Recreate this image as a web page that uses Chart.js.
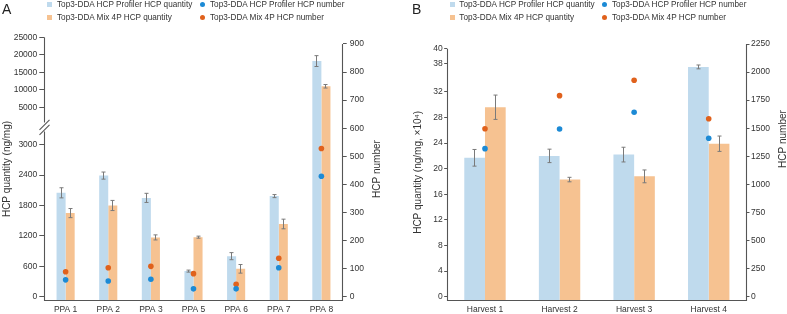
<!DOCTYPE html>
<html><head><meta charset="utf-8">
<script src="https://cdn.jsdelivr.net/npm/chart.js@4.4.1/dist/chart.umd.min.js"></script>
<style>
html,body{margin:0;padding:0;background:#fff;}
body{width:787px;height:314px;position:relative;overflow:hidden;font-family:"Liberation Sans",Arial,sans-serif;color:#333;}
.panel{position:absolute;top:0;height:314px;}
.panel canvas{display:block;}
.letter{position:absolute;font-size:14px;line-height:14px;color:#222;}
.leg{position:absolute;font-size:8.2px;line-height:10px;white-space:nowrap;color:#333;}
.sq{position:absolute;width:5px;height:5px;}
.dot{position:absolute;width:5px;height:5px;border-radius:50%;}
</style></head><body>
<div class="panel" style="left:0;width:393px"><canvas id="cA" width="393" height="314"></canvas></div>
<div class="panel" style="left:400px;width:387px"><canvas id="cB" width="387" height="314"></canvas></div>
<div class="letter" style="left:2px;top:1.5px">A</div>
<div class="letter" style="left:412px;top:1.5px">B</div>
<div id="legends"></div>
<script>
// ---------- DATA ----------
const seriesNames = ['Top3-DDA HCP Profiler HCP quantity','Top3-DDA Mix 4P HCP quantity','Top3-DDA HCP Profiler HCP number','Top3-DDA Mix 4P HCP number'];

const categoriesA = ['PPA 1','PPA 2','PPA 3','PPA 5','PPA 6','PPA 7','PPA 8'];
const profilerQtyA = [2050, 2390, 1950, 505, 800, 1985, 18200];
const profilerErrA = [100, 70, 90, 20, 70, 30, 1550];
const mixQtyA = [1650, 1800, 1170, 1175, 550, 1435, 11000];
const mixErrA = [90, 100, 50, 20, 85, 95, 500];
const profilerNumA = [60, 56, 62, 28, 28, 103, 429];
const mixNumA = [89, 103, 108, 82, 44, 137, 528];
const leftTicksA = [0, 600, 1200, 1800, 2400, 3000, 5000, 10000, 15000, 20000, 25000];
const rightTicksA = [0, 100, 200, 300, 400, 500, 600, 700, 800, 900];

const categoriesB = ['Harvest 1','Harvest 2','Harvest 3','Harvest 4'];
const profilerQtyB = [21.7, 22.0, 22.2, 35.9];
const profilerErrB = [1.3, 1.05, 1.15, 0.3];
const mixQtyB = [29.6, 18.3, 18.8, 23.9];
const mixErrB = [1.9, 0.35, 1.0, 1.2];
const profilerNumB = [1318, 1493, 1642, 1411];
const mixNumB = [1496, 1790, 1927, 1585];
const leftTickPosB = [0, 4, 8, 12, 16, 20, 24, 28, 32, 36.4, 38.75];
const leftTickLabelsB = ['0','4','8','12','16','20','24','28','32','38','40'];
const rightTicksB = [0, 250, 500, 750, 1000, 1250, 1500, 1750, 2000, 2250];

// ---------- STYLE ----------
const BAR_BLUE = '#bfdaed';
const BAR_ORANGE = '#f6c291';
const DOT_BLUE = '#1c8ad5';
const DOT_ORANGE = '#e0611c';
const AXIS = '#555555';
const ERR = '#7a7a7a';
const TXT = '#333333';
const FONT = '"Liberation Sans", Arial, sans-serif';
Chart.defaults.font.family = FONT;
Chart.defaults.color = TXT;

// broken axis shape for panel A (values above the break are compressed)
const BRK_LOW = 3000, BRK_HIGH = 5000, BRK_GAP = 738, BRK_RATIO = 0.06907;
const toAxisA = v => v <= BRK_LOW ? v : BRK_LOW + BRK_GAP + (v - BRK_HIGH) * BRK_RATIO;
const ident = v => v;

// ---------- LEGENDS ----------
function legend(off, sqX, txtX, dotX, dotTxtX) {
  const L = document.getElementById('legends');
  const rows = [[0, 2.3, 0], [1, 14.9, 12.6]];
  const cols = [BAR_BLUE, BAR_ORANGE, DOT_BLUE, DOT_ORANGE];
  rows.forEach(([r, boxY, txtY]) => {
    const s = document.createElement('div'); s.className = 'sq';
    s.style.cssText = `left:${off+sqX}px;top:${boxY}px;background:${cols[r]}`; L.appendChild(s);
    const t = document.createElement('div'); t.className = 'leg';
    t.style.cssText = `left:${off+txtX}px;top:${txtY}px`; t.textContent = seriesNames[r]; L.appendChild(t);
    const d = document.createElement('div'); d.className = 'dot';
    d.style.cssText = `left:${off+dotX}px;top:${boxY}px;background:${cols[r+2]}`; L.appendChild(d);
    const t2 = document.createElement('div'); t2.className = 'leg';
    t2.style.cssText = `left:${off+dotTxtX}px;top:${txtY}px`; t2.textContent = seriesNames[r+2]; L.appendChild(t2);
  });
}
legend(0, 47, 57, 200.2, 210);
legend(400, 50, 59.3, 202.2, 212);

// ---------- PLUGINS ----------
const al = p => Math.round(p - 0.5) + 0.5;
function errorPlugin(tf) {
  return { id: 'err', afterDatasetsDraw(chart) {
    const ctx = chart.ctx; ctx.save(); ctx.strokeStyle = ERR; ctx.lineWidth = 1;
    chart.data.datasets.forEach((ds, i) => {
      if (!ds.errs) return;
      const meta = chart.getDatasetMeta(i); const sc = chart.scales[meta.yAxisID];
      meta.data.forEach((el, j) => {
        const v = ds.rawVals[j], e = ds.errs[j];
        const x = al(el.x);
        const y1 = sc.getPixelForValue(tf(v + e)), y2 = sc.getPixelForValue(tf(v - e));
        ctx.beginPath();
        ctx.moveTo(x, y1); ctx.lineTo(x, y2);
        ctx.moveTo(x - 2, y1); ctx.lineTo(x + 2, y1);
        ctx.moveTo(x - 2, y2); ctx.lineTo(x + 2, y2);
        ctx.stroke();
      });
    });
    ctx.restore();
  }};
}
function axesPlugin(o) {
  return { id: 'axes', afterDraw(chart) {
    const ctx = chart.ctx, a = chart.chartArea, yL = chart.scales.y, yR = chart.scales.y2;
    const xl = al(a.left), xr = al(a.right), yb = al(a.bottom);
    ctx.save(); ctx.strokeStyle = AXIS; ctx.lineWidth = 1.1;
    const seg = (x1, y1, x2, y2) => { ctx.beginPath(); ctx.moveTo(x1, y1); ctx.lineTo(x2, y2); ctx.stroke(); };
    const topL = yL.getPixelForValue(o.leftTop);
    if (o.breakAt) {
      const c = o.breakAt(yL);
      seg(xl, topL, xl, c - 4.5); seg(xl, c + 4.5, xl, yb + 0.5);
      seg(xl - 5, c + 3, xl + 5, c - 7);
      seg(xl - 5, c + 8, xl + 5, c - 2);
    } else {
      seg(xl, topL, xl, yb + 0.5);
    }
    seg(xr, yR.getPixelForValue(o.rightTop), xr, yb + 0.5);
    seg(xl, yb, xr, yb);
    ctx.fillStyle = TXT; ctx.font = '10px ' + FONT;
    ctx.translate(a.right + o.rtX, o.rtY); ctx.rotate(-Math.PI / 2);
    ctx.textAlign = 'center'; ctx.textBaseline = 'middle';
    ctx.fillText('HCP number', 0, 0);
    ctx.restore();
  }};
}

function yScale(pos, min, max, tickVals, labels, tf, tl, pad, width, title) {
  const s = {
    position: pos, min: min, max: max,
    afterBuildTicks(sc) { sc.ticks = tickVals.map(v => ({ value: tf(v) })); },
    ticks: { callback: (v, i) => labels[i], font: { size: 8.5 }, padding: pad, color: TXT },
    grid: { drawOnChartArea: false, drawTicks: true, tickLength: tl, color: AXIS, tickWidth: 1 },
    border: { display: true, color: 'rgba(0,0,0,0)' },
    afterFit(sc) { sc.width = width; }
  };
  if (title) s.title = { display: true, text: title, font: { size: 10 }, color: TXT, padding: { top: 1, bottom: 0 } };
  return s;
}
function xScale() {
  return { grid: { display: false, drawTicks: false, tickLength: 0 }, border: { display: false },
    ticks: { font: { size: 8.5 }, padding: 4, color: TXT, maxRotation: 0, autoSkip: false },
    afterFit(sc) { sc.height = 13.3; } };
}
function datasets(pq, pe, mq, me, pn, mn, tf, base, cp) {
  const dot = (label, d, c) => ({ type: 'line', label, data: d, yAxisID: 'y2', showLine: false,
    pointRadius: 2.8, pointBackgroundColor: c, pointBorderColor: c, pointBorderWidth: 0, order: 0 });
  const bar = (label, d, e, c) => ({ type: 'bar', label, data: d.map(tf), rawVals: d, errs: e, yAxisID: 'y',
    backgroundColor: c, borderWidth: 0, base: base, barPercentage: 1, categoryPercentage: cp, order: 1 });
  return [dot(seriesNames[2], pn, DOT_BLUE), dot(seriesNames[3], mn, DOT_ORANGE),
          bar(seriesNames[0], pq, pe, BAR_BLUE), bar(seriesNames[1], mq, me, BAR_ORANGE)];
}

// ---------- PANEL A ----------
new Chart(document.getElementById('cA'), {
  type: 'bar',
  data: { labels: categoriesA, datasets: datasets(profilerQtyA, profilerErrA, mixQtyA, mixErrA, profilerNumA, mixNumA, toAxisA, -78.9, 0.425) },
  options: {
    responsive: false, animation: false, events: [],
    layout: { padding: { left: 0, right: 6, top: 37.3, bottom: 0 } },
    plugins: { legend: { display: false }, tooltip: { enabled: false } },
    scales: {
      x: xScale(),
      y: yScale('left', -78.9, 5119, leftTicksA, leftTicksA.map(String), toAxisA, 5, 2, 44.3, 'HCP quantity (ng/mg)'),
      y2: yScale('right', -14.25, 923.8, rightTicksA, rightTicksA.map(String), ident, 4, 3, 44.3, null)
    }
  },
  plugins: [errorPlugin(toAxisA), axesPlugin({ leftTop: toAxisA(25000), rightTop: 900, rtX: 34.3, rtY: 169,
    breakAt: yL => (yL.getPixelForValue(toAxisA(BRK_HIGH)) + yL.getPixelForValue(BRK_LOW)) / 2 + 1 })]
});

// ---------- PANEL B ----------
new Chart(document.getElementById('cB'), {
  type: 'bar',
  data: { labels: categoriesB, datasets: datasets(profilerQtyB, profilerErrB, mixQtyB, mixErrB, profilerNumB, mixNumB, ident, -0.625, 0.555) },
  options: {
    responsive: false, animation: false, events: [],
    layout: { padding: { left: 11, right: 0, top: 44, bottom: 0 } },
    plugins: { legend: { display: false }, tooltip: { enabled: false } },
    scales: {
      x: xScale(),
      y: yScale('left', -0.625, 39.48, leftTickPosB, leftTickLabelsB, ident, 3.5, 1.5, 36.7, 'HCP quantity (ng/mg, ×10⁴)'),
      y2: yScale('right', -35.6, 2250, rightTicksB, rightTicksB.map(String), ident, 3.5, 1.5, 41, null)
    }
  },
  plugins: [errorPlugin(ident), axesPlugin({ leftTop: 38.75, rightTop: 2250, rtX: 37, rtY: 139 })]
});
</script>
</body></html>
